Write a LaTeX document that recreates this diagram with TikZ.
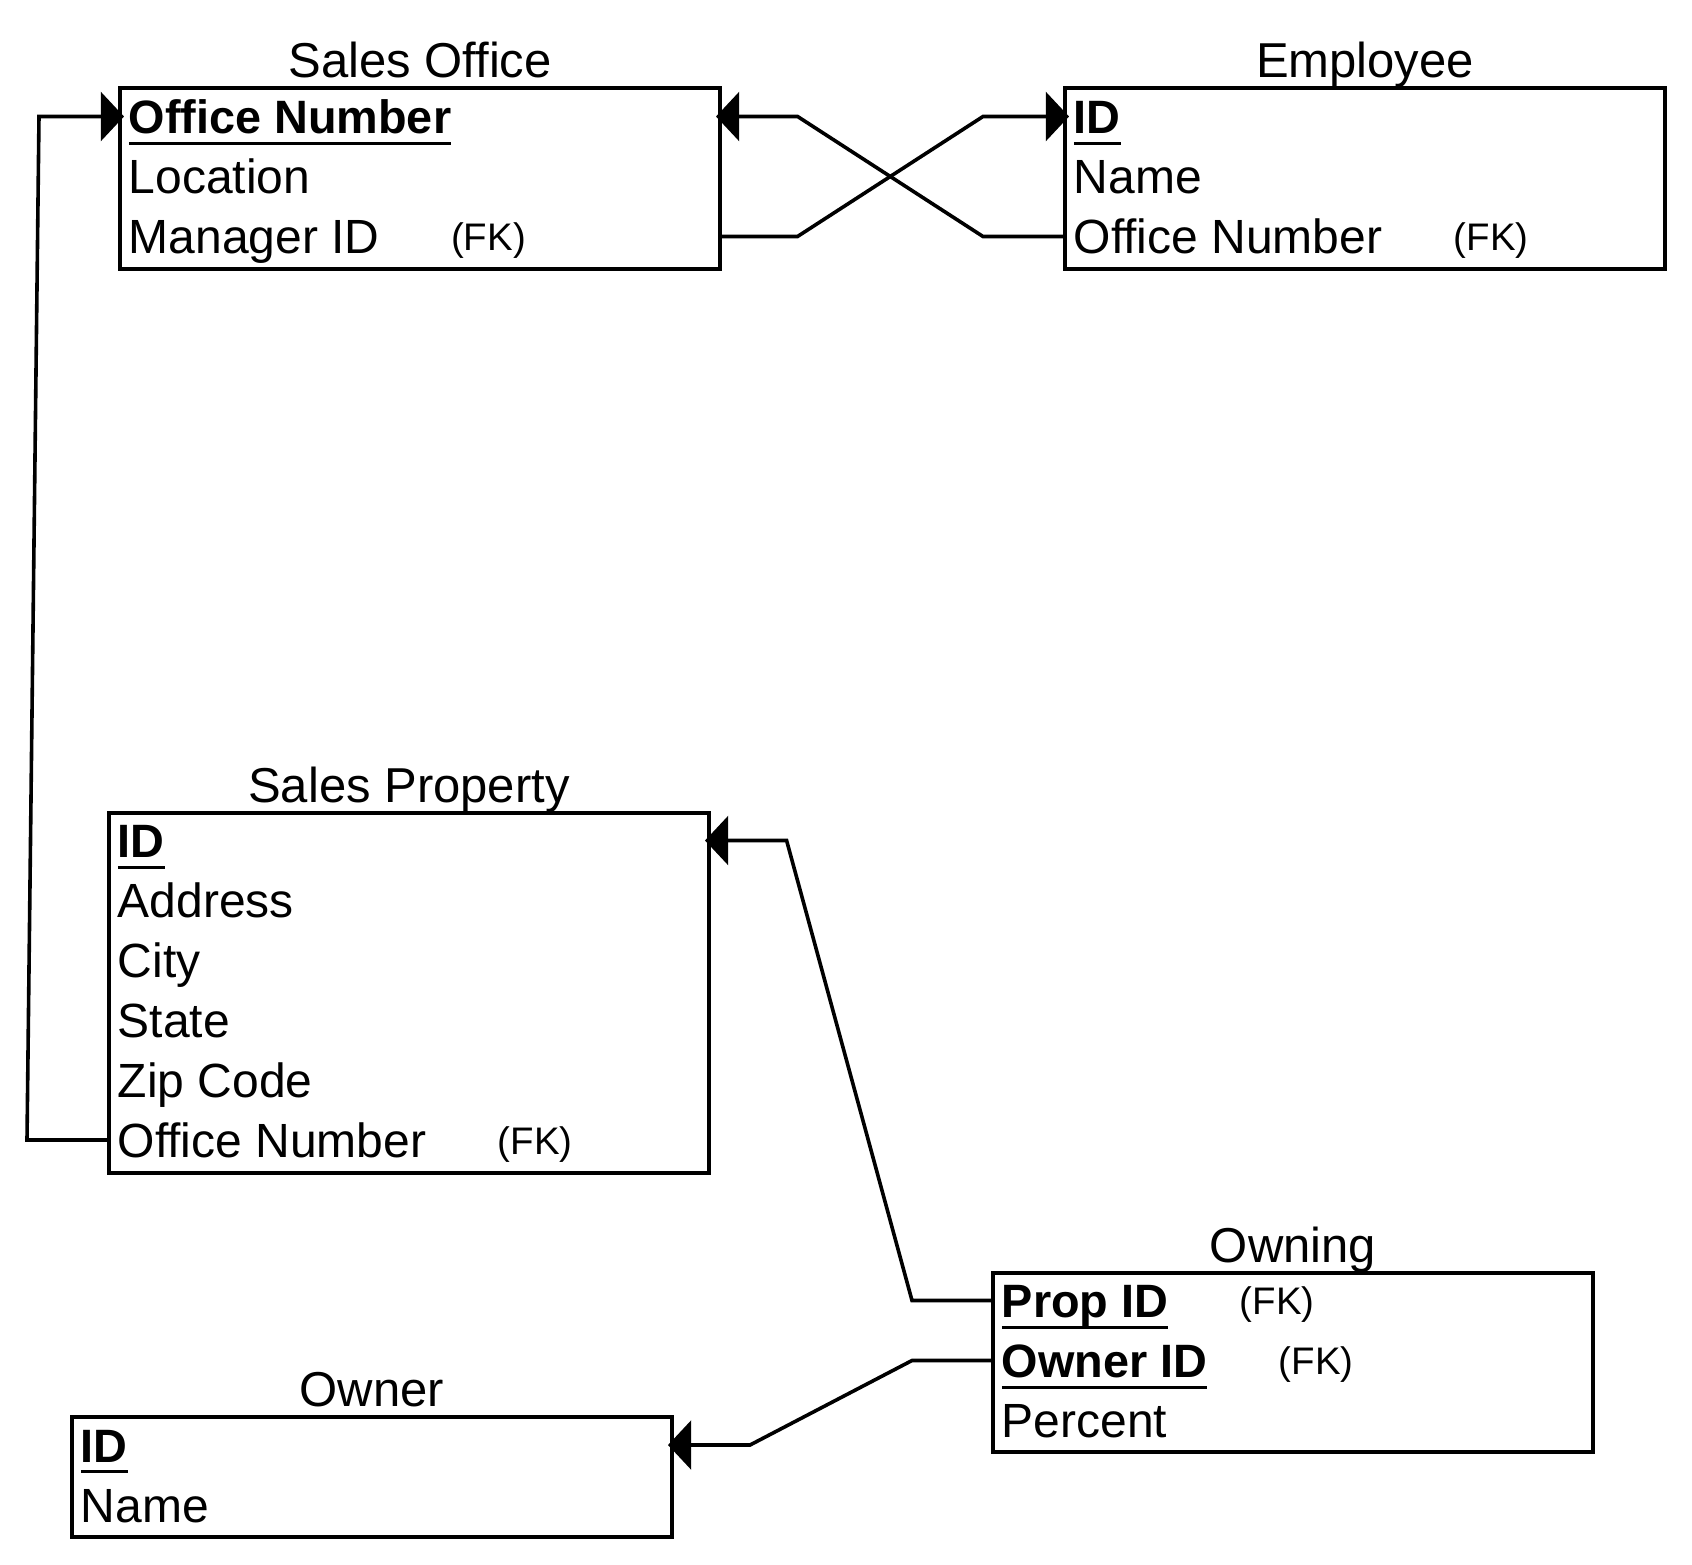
\documentclass[tikz,border=0pt]{standalone}
\usepackage{fontspec}
\setmainfont{Liberation Sans}
\usetikzlibrary{arrows.meta,positioning}
\newsavebox{\pkbox}
\newcommand{\pkey}[1]{\sbox{\pkbox}{\fontsize{11.7pt}{14pt}\bfseries #1}\rlap{\rule[-2.75pt]{\wd\pkbox}{0.75pt}}\usebox{\pkbox}}

\begin{document}
\begin{tikzpicture}[x=0.25pt, y=-0.25pt, font=\fontsize{12pt}{14pt}\selectfont,
    tbl/.style={draw, line width=1pt, anchor=north west, minimum width=150pt, inner sep=0pt, outer sep=0pt},
    ttl/.style={anchor=base, inner sep=0pt, yshift=2.6pt, font=\fontsize{12.25pt}{14pt}\selectfont},
    attr/.style={anchor=west, inner sep=0pt, text height=8.6pt, text depth=0pt},
    fk/.style={inner sep=0pt, yshift=0.7pt, font=\fontsize{9.6pt}{11pt}\selectfont},
    rel/.style={line width=0.9pt, -{Triangle[length=5.8pt,width=12.2pt]}, shorten >=-1pt}]
  \useasboundingbox (0,0) rectangle (1692,1564);
  % table: Sales Office
  \node[tbl, minimum height=45.25pt] (office) at (120,88) {};
  \node[ttl] (office-t) at (office.north) {Sales Office};
  \node[attr] (office-1) at (128,116.5) {\pkey{Office Number}};
  \node[attr] (office-2) at (128,176.5) {Location};
  \node[attr] (office-3) at (128,236.5) {Manager ID};
  \node[fk, base right=17.5pt of office-3] (office-3-fk) {(FK)};
  % table: Employee
  \node[tbl, minimum height=45.25pt] (emp) at (1065,88) {};
  \node[ttl] (emp-t) at (emp.north) {Employee};
  \node[attr] (emp-1) at (1073,116.5) {\pkey{ID}};
  \node[attr] (emp-2) at (1073,176.5) {Name};
  \node[attr] (emp-3) at (1073,236.5) {Office Number};
  \node[fk, base right=17.5pt of emp-3] (emp-3-fk) {(FK)};
  % table: Sales Property
  \node[tbl, minimum height=90pt] (prop) at (109,812.5) {};
  \node[ttl] (prop-t) at (prop.north) {Sales Property};
  \node[attr] (prop-1) at (117,840.5) {\pkey{ID}};
  \node[attr] (prop-2) at (117,900.5) {Address};
  \node[attr] (prop-3) at (117,960.5) {City};
  \node[attr] (prop-4) at (117,1020.5) {State};
  \node[attr] (prop-5) at (117,1080.5) {Zip Code};
  \node[attr] (prop-6) at (117,1140) {Office Number};
  \node[fk, base right=17.5pt of prop-6] (prop-6-fk) {(FK)};
  % table: Owning
  \node[tbl, minimum height=44.75pt] (own) at (993,1273) {};
  \node[ttl] (own-t) at (own.north) {Owning};
  \node[attr] (own-1) at (1001,1300.5) {\pkey{Prop ID}};
  \node[fk, base right=17.5pt of own-1] (own-1-fk) {(FK)};
  \node[attr] (own-2) at (1001,1360.5) {\pkey{Owner ID}};
  \node[fk, base right=17.5pt of own-2] (own-2-fk) {(FK)};
  \node[attr] (own-3) at (1001,1420.5) {Percent};
  % table: Owner
  \node[tbl, minimum height=30pt] (owner) at (72,1417) {};
  \node[ttl] (owner-t) at (owner.north) {Owner};
  \node[attr] (owner-1) at (80,1445) {\pkey{ID}};
  \node[attr] (owner-2) at (80,1505) {Name};
  % foreign keys
  \draw[rel] (office.east |- office-3) -- ++(77.5,0) -- ([xshift=-20.5pt]emp.west |- emp-1) -- (emp.west |- emp-1);
  \draw[rel] (emp.west |- emp-3) -- ++(-82,0) -- ([xshift=19.4pt]office.east |- office-1) -- (office.east |- office-1);
  \draw[rel] (prop.west |- prop-6) -- ++(-82,0) -- ([xshift=-20.25pt]office.west |- office-1) -- (office.west |- office-1);
  \draw[rel] (own.west |- own-1) -- ++(-81,0) -- ([xshift=19.4pt]prop.east |- prop-1) -- (prop.east |- prop-1);
  \draw[rel] (own.west |- own-2) -- ++(-81,0) -- ([xshift=19.5pt]owner.east |- owner-1) -- (owner.east |- owner-1);
\end{tikzpicture}
\end{document}
